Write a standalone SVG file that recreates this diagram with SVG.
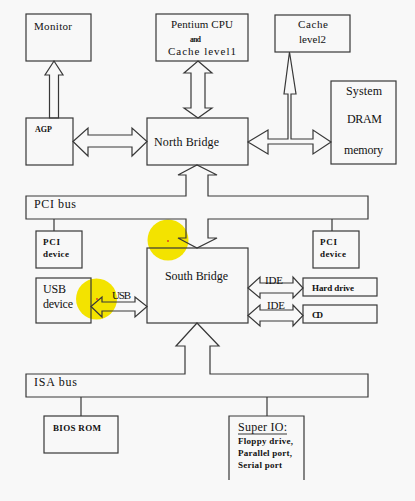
<svg xmlns="http://www.w3.org/2000/svg" width="415" height="501" viewBox="0 0 415 501">
<style>
.b{fill:none;stroke:#383838;stroke-width:1.2}
.c{fill:none;stroke:#383838;stroke-width:1.2;stroke-linejoin:miter}
text{font-family:"Liberation Serif","Times New Roman",serif;fill:#111}
.t12{font-size:12px}
.t11{font-size:11px}
.s{font-size:9px;font-weight:bold}
.hl{fill:#f3e300}
.dot{fill:#e03020}
</style>
<rect width="415" height="501" fill="#f8f8f8"/>
<g id="highlights">
<circle class="hl" cx="168" cy="240" r="20.5"/>
<circle class="hl" cx="96.5" cy="299" r="20.5"/>
</g>
<g id="connectors">
<polygon class="c" points="54,61 63,75 58.5,75 58.5,118 49.5,118 49.5,75 45,75"/>
<polygon class="c" points="73,141.5 88,128 88,135 132,135 132,128 147,141.5 132,156 132,147 88,147 88,156"/>
<polygon class="c" points="198,61 212,73 205,73 205,108 212,108 198,118 184,108 191,108 191,73 184,73"/>
<polygon class="c" points="248,142 268,130 268,139 288,139 288,94 284,94 289.5,52 296,94 291,94 291,139 313,139 313,130 331,142 313,154 313,144 268,144 268,154"/>
<polygon class="c" points="91,306.5 102,297 102,302 135,302 135,297 147,306.5 135,317 135,311 102,311 102,317"/>
<polygon class="c" points="248,288 260,277 260,283 293,283 293,277 303,288 293,298 293,293 260,293 260,298"/>
<polygon class="c" points="248,315.5 260,305 260,310 293,310 293,305 303,315.5 293,326 293,321 260,321 260,326"/>
<line class="b" x1="54" y1="219" x2="54" y2="231"/>
<line class="b" x1="332" y1="219" x2="332" y2="231"/>
<line class="b" x1="81" y1="397" x2="81" y2="416"/>
<line class="b" x1="267" y1="397" x2="267" y2="416"/>
<text class="t11" x="112" y="299" textLength="19">USB</text>
<text class="t11" x="265" y="284" textLength="18">IDE</text>
<text class="t11" x="267" y="309" textLength="18">IDE</text>
</g>
<g id="pci-bus">
<polygon class="c" points="26,196 186,196 186,175 178,175 197,165 217,175 208,175 208,196 368,196 368,219 208,219 208,238 217,238 197,248 178,238 186,238 186,219 26,219"/>
<text class="t12" x="34" y="208" textLength="42">PCI bus</text>
</g>
<g id="isa-bus">
<polygon class="c" points="26,374 185,374 185,346 176,346 197,323 219,346 210,346 210,374 368,374 368,397 26,397"/>
<text class="t12" x="34" y="386" textLength="43">ISA bus</text>
</g>
<g id="monitor">
<rect class="b" x="26" y="14" width="65" height="47"/>
<text class="t11" x="34" y="30" textLength="38">Monitor</text>
</g>
<g id="cpu">
<rect class="b" x="156" y="14" width="92" height="47"/>
<text class="t11" x="171" y="28" textLength="62">Pentium CPU</text>
<text x="190" y="41.5" style="font-size:7.5px;font-weight:bold" textLength="11">and</text>
<text class="t11" x="168" y="55" textLength="68">Cache level1</text>
</g>
<g id="cache2">
<rect class="b" x="275" y="15" width="75" height="37"/>
<text class="t11" x="298" y="28" textLength="30">Cache</text>
<text class="t11" x="299" y="43" textLength="27">level2</text>
</g>
<g id="dram">
<rect class="b" x="331" y="81" width="65" height="83"/>
<text class="t12" x="346" y="95" textLength="36">System</text>
<text class="t12" x="347" y="123" textLength="35">DRAM</text>
<text class="t12" x="344" y="154" textLength="39">memory</text>
</g>
<g id="agp">
<rect class="b" x="26" y="118" width="47" height="47"/>
<text x="35" y="132" style="font-size:8px;font-weight:bold" textLength="17">AGP</text>
</g>
<g id="north-bridge">
<rect class="b" x="147" y="118" width="101" height="47"/>
<text class="t12" x="154" y="146" textLength="65">North Bridge</text>
</g>
<g id="pci-device-1">
<rect class="b" x="36" y="231" width="46" height="37"/>
<text class="s" x="43" y="245" textLength="17">PCI</text>
<text class="s" x="43" y="257" textLength="26">device</text>
</g>
<g id="pci-device-2">
<rect class="b" x="313" y="231" width="46" height="37"/>
<text class="s" x="320" y="245" textLength="17">PCI</text>
<text class="s" x="320" y="257" textLength="26">device</text>
</g>
<g id="usb-device">
<rect class="b" x="36" y="278" width="55" height="45"/>
<text class="t12" x="43" y="293" textLength="23">USB</text>
<text class="t12" x="43" y="308" textLength="30">device</text>
</g>
<g id="south-bridge">
<rect class="b" x="147" y="248" width="101" height="75"/>
<text class="t12" x="165" y="280" textLength="63">South Bridge</text>
</g>
<g id="hard-drive">
<rect class="b" x="303" y="278" width="74" height="18"/>
<text class="s" x="312" y="291" textLength="42">Hard drive</text>
</g>
<g id="cd">
<rect class="b" x="303" y="305" width="74" height="18"/>
<text class="s" x="312" y="318" textLength="11">CD</text>
</g>
<g id="bios-rom">
<rect class="b" x="44" y="416" width="74" height="37"/>
<text class="s" x="53" y="431" textLength="48">BIOS ROM</text>
</g>
<g id="super-io">
<polyline class="b" points="229,480 229,416 304,416 304,480"/>
<text class="t12" x="238" y="431" textLength="49">Super IO:</text>
<line class="b" x1="238" y1="434" x2="287" y2="434" stroke-width="1"/>
<text class="s" x="238" y="443.5" textLength="55">Floppy drive,</text>
<text class="s" x="238" y="455.5" textLength="54">Parallel port,</text>
<text class="s" x="238" y="468" textLength="44">Serial port</text>
</g>
<g id="dots">
<circle class="dot" cx="168" cy="241" r="0.9"/>
<circle class="dot" cx="97" cy="299" r="0.9"/>
</g>
</svg>
